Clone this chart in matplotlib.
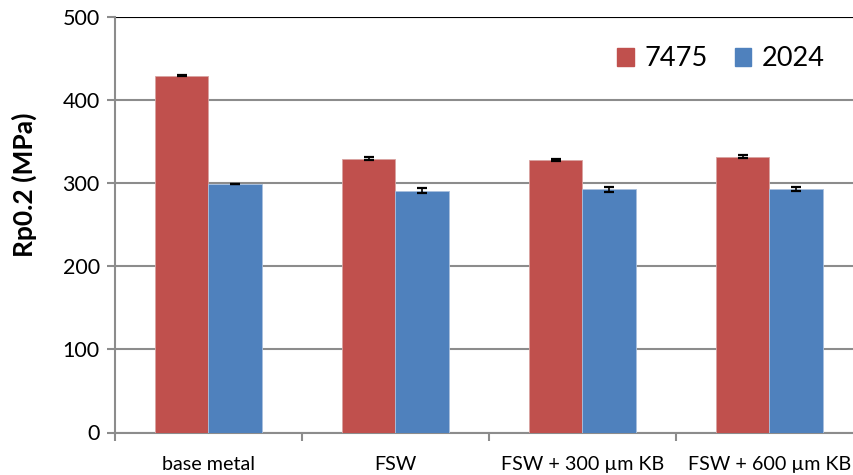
import numpy as np
import matplotlib
matplotlib.use("Agg")
import matplotlib.pyplot as plt
import matplotlib.patches as mpatches

plt.rcParams["font.family"] = ["Lato", "DejaVu Sans"]

# data
categories = ["base metal", "FSW", "FSW + 300 µm KB", "FSW + 600 µm KB"]
series = ["7475", "2024"]
rp_7475 = [429.5, 329.5, 328.0, 332.0]
rp_2024 = [299.0, 291.0, 292.5, 293.0]
err_7475 = [1.0, 2.0, 1.0, 2.0]
err_2024 = [0.5, 3.0, 2.5, 2.0]

RED = "#C0504D"
BLUE = "#4F81BD"
GRID = "#8c8c8c"

fig = plt.figure(figsize=(8.54, 4.75), dpi=100)
ax = fig.add_axes([115 / 854, 1 - 432.5 / 475, 748 / 854, 415.5 / 475])

x = np.arange(len(categories))
w = 1 / 3.5
ax.bar(x - w / 2, rp_7475, w, color=RED, edgecolor="#d9a3a1", linewidth=0.6,
       zorder=3, label=series[0])
ax.bar(x + w / 2, rp_2024, w, color=BLUE, edgecolor="#a9c0de", linewidth=0.6,
       zorder=3, label=series[1])
eb = dict(fmt="none", ecolor="black", elinewidth=1.2, capsize=3.5,
          capthick=1.6, zorder=4)
ax.errorbar(x - w / 2, rp_7475, yerr=err_7475, **eb)
ax.errorbar(x + w / 2, rp_2024, yerr=err_2024, **eb)

ax.set_xlim(-0.5, len(categories) - 0.5)
ax.set_ylim(0, 500)
ax.set_yticks(np.arange(0, 501, 100))
ax.yaxis.grid(True, color=GRID, linewidth=1.5, zorder=0)
ax.set_axisbelow(True)

ax.set_xticks(x)
ax.set_xticklabels(categories, fontsize=14.2)
ax.set_xticks(np.arange(-0.5, len(categories)), minor=True)
ax.tick_params(axis="x", which="major", length=0, pad=17)
ax.tick_params(axis="x", which="minor", length=6, width=1.5, color=GRID)
ax.tick_params(axis="y", length=6, width=1.5, color=GRID, labelsize=15.5, pad=5)

for side in ("top", "right"):
    ax.spines[side].set_visible(False)
for side in ("left", "bottom"):
    ax.spines[side].set_color(GRID)
    ax.spines[side].set_linewidth(1.5)
ax.axhline(500, color="black", linewidth=1.5, zorder=2)

fig.text(24.5 / 854, 1 - 185 / 475, "Rp0.2 (MPa)", rotation=90,
         ha="center", va="center", fontsize=19, fontweight="bold")

handles = [mpatches.Patch(color=RED, label=series[0]),
           mpatches.Patch(color=BLUE, label=series[1])]
fig.legend(handles=handles, loc="center left",
           bbox_to_anchor=(593 / 854, 1 - 59 / 475), ncol=2, frameon=False,
           fontsize=19.5, handlelength=0.6, handleheight=0.6,
           handletextpad=0.4, columnspacing=1.0)

fig.savefig("out.png", dpi=100)
